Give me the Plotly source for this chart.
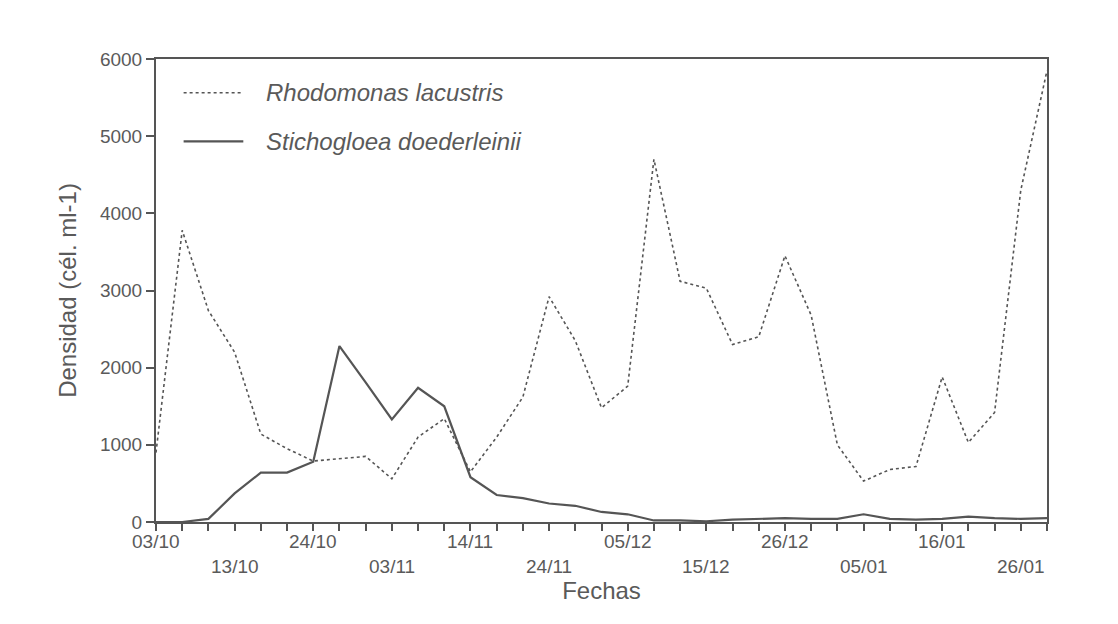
import plotly.graph_objects as go

# sample number along the x axis (35 sampling dates)
sample_idx = list(range(35))

rhodomonas = [900, 3780, 2740, 2200, 1140, 950, 790, 820, 850, 560,
              1100, 1340, 650, 1100, 1620, 2920, 2350, 1480, 1760, 4700,
              3120, 3030, 2300, 2400, 3450, 2680, 1000, 530, 680, 720,
              1880, 1030, 1420, 4300, 5850]

stichogloea = [0, 0, 40, 370, 640, 640, 780, 2280, 1810, 1330,
               1740, 1500, 580, 350, 310, 240, 210, 130, 100, 20,
               20, 10, 30, 40, 50, 40, 40, 100, 40, 30,
               40, 70, 50, 40, 50]

date_labels = ["03/10", "13/10", "24/10", "03/11", "14/11", "24/11",
               "05/12", "15/12", "26/12", "05/01", "16/01", "26/01"]
date_idx = [0, 3, 6, 9, 12, 15, 18, 21, 24, 27, 30, 33]

series_names = ["Rhodomonas lacustris", "Stichogloea doederleinii"]

INK = "#555555"
TXT = "#5a5a5a"
FONT = "Liberation Sans, Arial, sans-serif"

fig = go.Figure()
fig.add_trace(go.Scatter(x=sample_idx, y=rhodomonas, mode="lines",
                         name=series_names[0],
                         line=dict(color=INK, width=1.6, dash="dot")))
fig.add_trace(go.Scatter(x=sample_idx, y=stichogloea, mode="lines",
                         name=series_names[1],
                         line=dict(color=INK, width=2.2)))

annotations = []
for k, (lab, i) in enumerate(zip(date_labels, date_idx)):
    annotations.append(dict(x=i, y=0, xref="x", yref="paper", text=lab,
                            showarrow=False, xanchor="center", yanchor="top",
                            yshift=-7 if k % 2 == 0 else -32,
                            font=dict(family=FONT, size=19, color=TXT)))

# legend drawn inside the frame
leg_y = [0.927, 0.822]
for name, yy in zip(series_names, leg_y):
    annotations.append(dict(x=0.121, y=yy, xref="paper", yref="paper",
                            text="<i>" + name + "</i>", showarrow=False,
                            xanchor="left", yanchor="middle",
                            font=dict(family=FONT, size=24, color=TXT)))

shapes = [
    dict(type="line", xref="paper", yref="paper", x0=0.031, x1=0.098,
         y0=leg_y[0], y1=leg_y[0], line=dict(color=INK, width=1.6, dash="dot")),
    dict(type="line", xref="paper", yref="paper", x0=0.031, x1=0.098,
         y0=leg_y[1], y1=leg_y[1], line=dict(color=INK, width=2.2)),
]

fig.update_layout(
    width=1118, height=624,
    margin=dict(l=148, r=79, t=51, b=110),
    paper_bgcolor="white", plot_bgcolor="white",
    showlegend=False,
    font=dict(family=FONT, color=TXT),
    annotations=annotations,
    shapes=shapes,
    xaxis=dict(range=[0, 34], tickmode="array", tickvals=sample_idx,
               showticklabels=False, ticks="outside", ticklen=7,
               tickwidth=1.5, tickcolor=INK, showline=True, linecolor=INK,
               linewidth=2, mirror=True, showgrid=False, zeroline=False,
               title=dict(text="Fechas", standoff=52,
                          font=dict(family=FONT, size=24, color=TXT))),
    yaxis=dict(range=[0, 6000], tickmode="array",
               tickvals=[0, 1000, 2000, 3000, 4000, 5000, 6000],
               ticks="outside", ticklen=8, tickwidth=1.5, tickcolor=INK,
               showline=True, linecolor=INK, linewidth=2, mirror=True,
               showgrid=False, zeroline=False,
               tickfont=dict(family=FONT, size=19, color=TXT),
               title=dict(text="Densidad (cél. ml-1)", standoff=17,
                          font=dict(family=FONT, size=24, color=TXT))),
)

fig.write_html("out.html")
